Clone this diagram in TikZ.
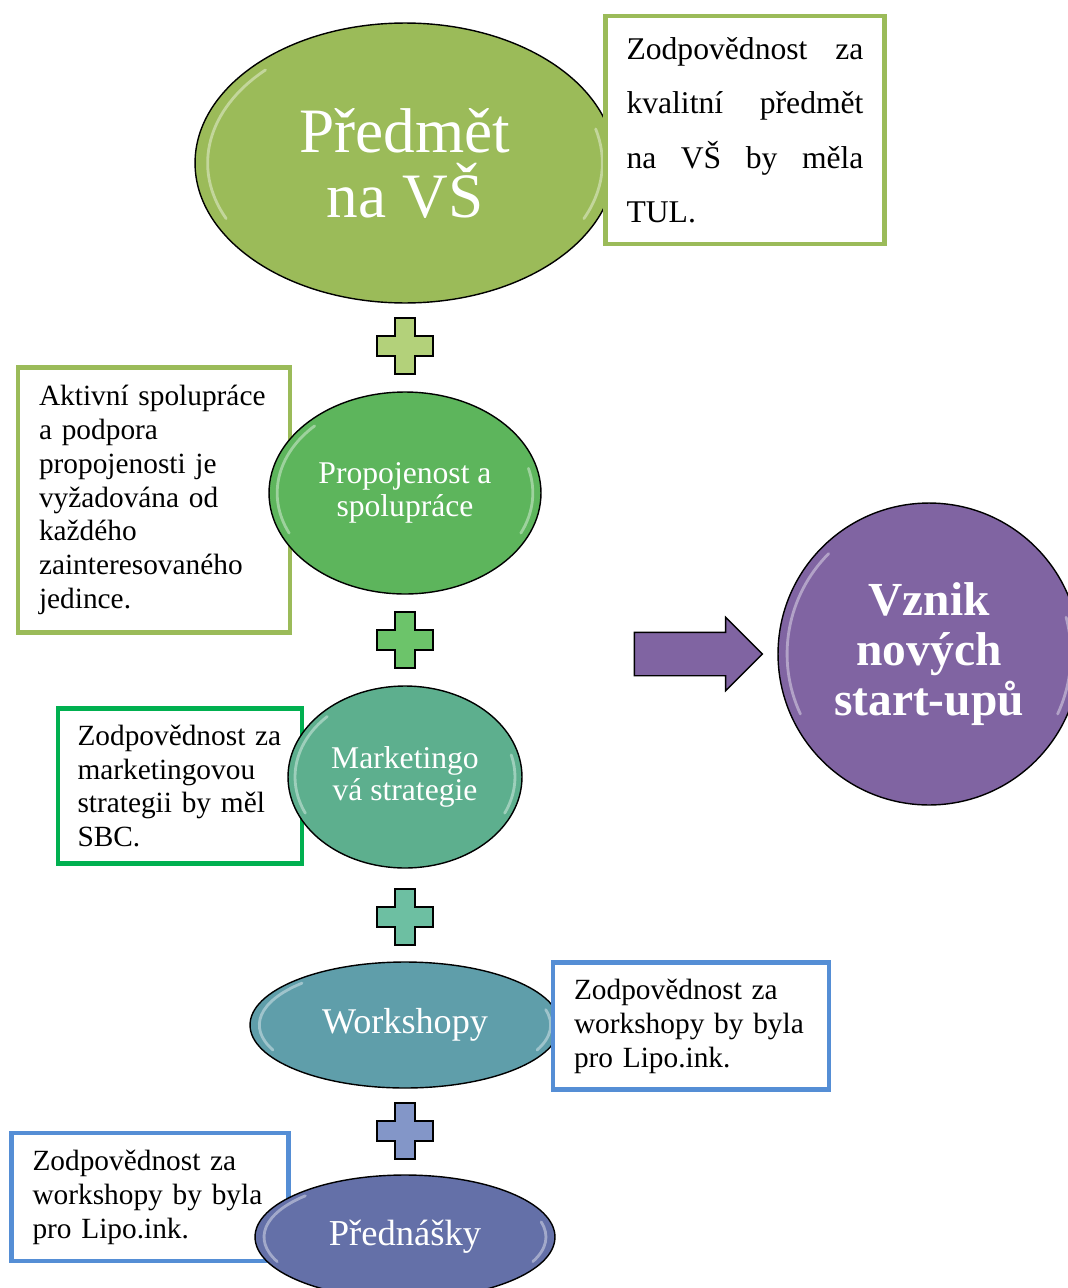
\documentclass[tikz,border=0pt]{standalone}
\usepackage{fontspec}
\setmainfont{Liberation Serif}
\usetikzlibrary{positioning,shapes.geometric,shapes.arrows,calc}

\definecolor{subjgreen}{HTML}{9BBB59}
\definecolor{linkgreen}{HTML}{5DB55C}
\definecolor{mktteal}{HTML}{5DAF8E}
\definecolor{wsteal}{HTML}{5F9EAA}
\definecolor{lectblue}{HTML}{6470A8}
\definecolor{outpurple}{HTML}{8064A2}
\definecolor{sbcgreen}{HTML}{00B050}
\definecolor{noteblue}{HTML}{558ED5}
\definecolor{plusA}{HTML}{B3D17A}
\definecolor{plusB}{HTML}{6CC46A}
\definecolor{plusC}{HTML}{6DBFA2}
\definecolor{plusD}{HTML}{8396C8}

\begin{document}
\begin{tikzpicture}[
  x=0.02cm, y=-0.02cm,
  gloss/.style={path picture={
    \draw[white, opacity=0.4, line width=1.6pt, line cap=round]
      let \p1=($(path picture bounding box.north east)-(path picture bounding box.center)$) in
      ($(path picture bounding box.center)+({0.94*\x1*cos(135)},{0.94*\y1*sin(135)})$)
        arc[start angle=135, end angle=205, x radius=0.94*\x1, y radius=0.94*\y1]
      ($(path picture bounding box.center)+({0.94*\x1*cos(-25)},{0.94*\y1*sin(-25)})$)
        arc[start angle=-25, end angle=15, x radius=0.94*\x1, y radius=0.94*\y1];
  }},
  bubble/.style={ellipse, draw=black, line width=0.8pt, inner sep=0pt, align=center, text=white, gloss},
  subjb/.style={bubble, fill=subjgreen, minimum width=8.4cm, minimum height=5.6cm, font=\fontsize{36}{37}\selectfont},
  linkb/.style={bubble, fill=linkgreen, minimum width=5.44cm, minimum height=4.04cm, font=\fontsize{18}{18.7}\selectfont},
  mktb/.style={bubble, fill=mktteal, minimum width=4.68cm, minimum height=3.64cm, font=\fontsize{18}{18.7}\selectfont},
  wsb/.style={bubble, fill=wsteal, minimum width=6.2cm, minimum height=2.52cm, font=\fontsize{20.6}{22}\selectfont},
  lectb/.style={bubble, fill=lectblue, minimum width=6.0cm, minimum height=2.48cm, font=\fontsize{20.8}{22}\selectfont},
  outb/.style={bubble, circle, fill=outpurple, minimum size=6.04cm, font=\fontsize{27}{28.3}\selectfont\bfseries},
  note/.style={rectangle, draw, line width=2.6pt, fill=white, inner xsep=0.42cm, inner ysep=0pt, align=left, font=\fontsize{16.7}{19.3}\selectfont},
  goarrow/.style={single arrow, draw=black, line width=0.8pt, fill=outpurple, inner xsep=0pt, inner ysep=0.42cm, minimum height=2.56cm, single arrow head extend=0.3cm},
  plussign/.pic={
    \path[pic actions, draw=black, line width=1pt] (-10,-28) -- (10,-28) -- (10,-10) -- (28,-10) -- (28,10) -- (10,10)
      -- (10,28) -- (-10,28) -- (-10,10) -- (-28,10) -- (-28,-10) -- (-10,-10) -- cycle;
  },
]
\path[use as bounding box, fill=white] (0,0) rectangle (1068,1288);

% Subject at the top, note box over its right edge
\node[subjb] (subj) at (405,163) {Předmět\\na VŠ};
\node[note, draw=subjgreen, text width=4.74cm, minimum height=4.56cm, align=justify, font=\fontsize{18}{31}\selectfont] (subjnote) at (745,130)
  {Zodpovědnost za\linebreak kvalitní předmět\linebreak na VŠ by měla\linebreak TUL.};

% Links and cooperation
\node[note, draw=subjgreen, text width=4.6cm, minimum height=5.3cm] (linknote) at (154,500)
  {Aktivní spolupráce\\a podpora\\propojenosti je\\vyžadována od\\každého\\zainteresovaného\\jedince.};
\node[linkb] (link) at (405,493) {Propojenost a\\spolupráce};

% Marketing
\node[note, draw=sbcgreen, text width=4.1cm, inner xsep=0.39cm, minimum height=3.1cm] (mktnote) at (180,786)
  {Zodpovědnost za\\marketingovou\\strategii by měl\\SBC.};
\node[mktb] (mkt) at (405,777) {Marketingo\\vá strategie};

% Workshops
\node[wsb] (ws) at (405,1025) {Workshopy};
\node[note, draw=noteblue, text width=4.68cm, minimum height=2.54cm] (wsnote) at (691,1026)
  {Zodpovědnost za\\workshopy by byla\\pro Lipo.ink.};

% Lectures
\node[note, draw=noteblue, text width=4.7cm, minimum height=2.56cm] (lectnote) at (150,1197)
  {Zodpovědnost za\\workshopy by byla\\pro Lipo.ink.};
\node[lectb] (lect) at (405,1237) {Přednášky};

% Plus signs between the bubbles
\pic[fill=plusA] at (405,346) {plussign};
\pic[fill=plusB] at (405,640) {plussign};
\pic[fill=plusC] at (405,917) {plussign};
\pic[fill=plusD] at (405,1131) {plussign};

% Outcome
\node[outb] (outcome) at (929,654) {Vznik\\nových\\start-upů};
\node[goarrow, left=0.28cm of outcome] (go) {};

\end{tikzpicture}
\end{document}
